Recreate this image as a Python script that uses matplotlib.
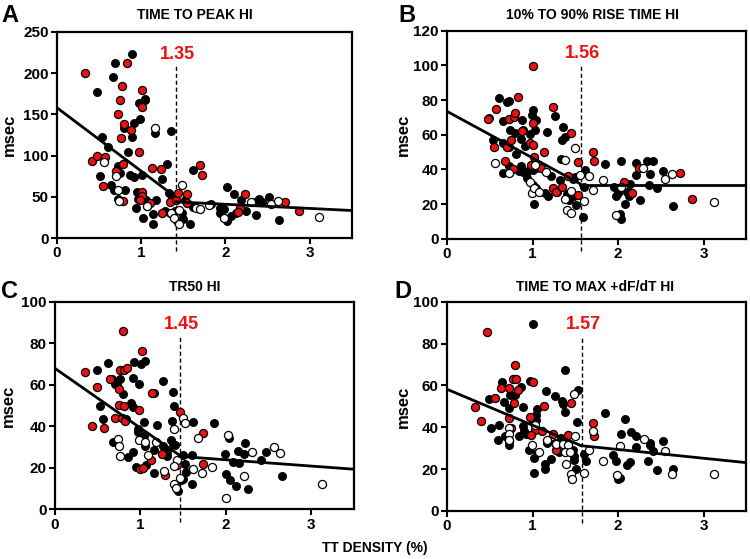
import matplotlib

matplotlib.use("Agg")

import matplotlib.pyplot as plt

plt.rcParams["font.family"] = ["Liberation Sans", "DejaVu Sans"]
plt.rcParams["font.weight"] = "bold"

# ---- panel A: time to peak ----
a_black_x = [0.89, 0.69, 0.67, 0.48, 0.97, 1.04, 0.98, 0.91, 0.79, 0.89, 0.53, 1.35,
             1.16, 0.84, 0.60, 0.73, 0.75, 0.87, 0.91, 1.01, 1.31, 1.25, 0.51, 0.64,
             0.68, 0.81, 0.72, 0.95, 0.96, 0.94, 1.06, 1.07, 1.14, 1.14, 1.02, 1.18,
             1.28, 1.33, 1.34, 1.37, 1.40, 1.42, 1.49, 1.50, 1.58, 1.61, 1.61, 1.52,
             2.02, 2.10, 1.94, 1.98, 2.02, 2.07, 2.13, 2.24, 2.19, 2.36, 2.38, 2.40,
             2.43, 2.52, 2.64, 1.83, 1.93, 1.05]
a_black_y = [223, 212, 195, 177, 164, 169, 144, 140, 133, 123, 123, 130,
             128, 105, 111, 88, 79, 76, 74, 77, 90, 72, 75, 65,
             58, 58, 47, 56, 48, 37, 46, 39, 29, 17, 24, 46,
             33, 55, 30, 48, 33, 21, 30, 23, 17, 38, 83, 46,
             62, 53, 31, 35, 21, 27, 30, 33, 46, 28, 45, 47,
             44, 50, 22, 41, 36, 168]
a_red_x = [0.335, 0.83, 0.77, 1.01, 0.75, 1.01, 0.73, 0.80, 0.88, 0.76, 0.97, 0.41,
           0.47, 0.57, 0.78, 1.13, 1.24, 1.70, 1.72, 0.70, 0.55, 1.01, 1.01, 0.78,
           0.98, 1.10, 1.25, 1.34, 1.41, 1.44, 1.54, 1.54, 2.23, 2.17, 2.15, 2.71,
           2.87]
a_red_y = [200, 212, 184, 180, 168, 159, 150, 138, 131, 121, 104, 93,
           99, 98, 90, 85, 84, 89, 76, 81, 63, 56, 51, 45,
           46, 43, 30, 44, 46, 55, 53, 42, 53, 37, 32, 44,
           33]
a_open_x = [1.16, 0.70, 0.56, 0.72, 0.74, 1.07, 1.49, 1.35, 1.39, 1.45, 1.45, 1.65,
            1.70, 1.81, 1.98, 2.30, 2.54, 2.63, 3.11]
a_open_y = [133, 75, 92, 58, 45, 39, 65, 30, 24, 17, 34, 37,
            35, 40, 24, 44, 41, 45, 26]

# ---- panel B: 10% to 90% rise time ----
b_black_x = [0.49, 0.61, 0.70, 0.73, 0.66, 0.74, 0.80, 0.88, 0.89, 0.97, 0.99, 1.00,
             1.04, 1.03, 1.17, 1.26, 1.36, 1.38, 1.35, 0.54, 0.65, 0.73, 0.81, 0.86,
             0.91, 0.87, 0.84, 0.89, 0.93, 0.97, 1.01, 1.04, 0.66, 0.72, 0.93, 1.01,
             1.04, 1.02, 1.15, 1.18, 1.22, 1.32, 1.33, 1.47, 1.50, 1.29, 1.40, 1.43,
             1.49, 1.51, 1.59, 1.60, 1.61, 1.85, 1.95, 1.98, 2.00, 2.03, 2.02, 2.04,
             2.08, 2.11, 2.14, 2.13, 2.21, 2.21, 2.26, 2.34, 2.41, 2.38, 2.36, 2.46,
             2.53, 2.64]
b_black_y = [69.4, 81, 79, 79.5, 68, 63, 61, 68.6, 63, 60.7, 71.5, 74.5,
             68.6, 63, 61.7, 71, 64.4, 58.7, 57, 56.8, 55.5, 53, 49, 57.8,
             53.5, 42, 39, 38.6, 38.6, 40, 39.7, 41, 37.8, 42, 35, 31,
             29, 19.8, 26.4, 24.8, 36, 34, 46, 34.5, 35.7, 26.8, 26, 22.5,
             24.4, 19.6, 12.4, 30, 39.6, 43, 30, 24.4, 26.4, 44.8, 14.5, 11.2,
             20, 27, 31.8, 24.8, 36.5, 43.4, 22.5, 44.8, 44.8, 37.2, 31, 29,
             38.8, 19]
b_red_x = [1.01, 0.48, 0.57, 0.83, 0.73, 0.78, 0.80, 0.75, 0.55, 0.70, 0.88, 1.00,
           1.24, 1.45, 0.97, 1.01, 1.02, 1.13, 0.68, 0.77, 0.98, 1.10, 1.53, 1.71,
           1.72, 1.42, 1.24, 1.27, 1.35, 1.53, 2.07, 2.16, 2.24, 2.72, 2.87]
b_red_y = [99.5, 69, 75, 82, 69, 70, 72.5, 57, 53, 53, 62, 67,
           76, 61, 55, 54, 47, 50, 45, 40.5, 42.6, 41, 44, 50,
           45, 36, 29, 27, 30, 25, 32.6, 26.6, 41, 38, 23]
b_open_x = [0.56, 0.73, 0.99, 0.97, 1.02, 1.08, 1.16, 1.38, 1.50, 1.38, 1.40, 1.45,
            1.45, 1.55, 1.60, 1.66, 1.71, 1.83, 1.98, 2.03, 2.29, 2.55, 2.63, 3.12,
            1.03]
b_open_y = [43.4, 38, 26.2, 32.6, 29.3, 26.8, 38.6, 45.2, 52.5, 22.9, 16.7, 14.7,
            27.3, 36.6, 21.7, 36, 28, 33.7, 13.8, 29.9, 40.7, 34.7, 37.6, 21.3,
            42.7]

# ---- panel C: TR50 ----
c_black_x = [0.49, 0.62, 0.93, 1.01, 1.05, 0.67, 0.76, 0.91, 1.27, 0.70, 0.73, 0.99,
             0.80, 1.16, 1.38, 0.53, 0.89, 0.91, 1.39, 0.56, 0.83, 1.04, 1.20, 0.97,
             0.97, 1.04, 1.37, 1.62, 1.86, 0.68, 0.91, 0.86, 1.06, 1.16, 1.27, 1.36,
             1.38, 1.41, 1.31, 1.31, 1.16, 0.95, 1.07, 1.50, 1.61, 1.52, 1.50, 1.53,
             1.48, 1.44, 1.60, 1.99, 2.00, 2.04, 2.05, 2.09, 2.12, 2.14, 2.16, 2.21,
             2.22, 2.26, 2.41, 2.47, 2.66]
c_black_y = [67.2, 70.3, 71, 69.8, 71.7, 62.7, 63, 63.3, 61.7, 60.2, 59.8, 60.2,
             55.7, 55.9, 56.5, 50, 51.2, 49.3, 50, 43.3, 43.3, 42, 40.5, 38.8,
             37.2, 35.2, 42.5, 42, 41.5, 32.6, 27.5, 25, 30.4, 28.6, 30.4, 33.4,
             31.7, 31, 27.8, 25.5, 17.4, 20.4, 21.3, 26.2, 26.2, 21.8, 14.7, 17.8,
             14.2, 8.9, 12.3, 26.5, 17, 34.4, 14.2, 22.6, 11.3, 27.9, 22.3, 26.8,
             31.8, 9.7, 23.9, 27.8, 16.2]
c_red_x = [0.80, 1.02, 0.35, 0.76, 0.81, 0.85, 0.65, 0.49, 0.75, 1.14, 0.75, 0.81,
           0.99, 1.46, 0.43, 0.58, 0.71, 0.79, 0.82, 1.73, 1.25, 1.12, 1.29, 1.00,
           1.03, 1.43, 1.73]
c_red_y = [86.1, 76.2, 66.4, 67, 67.2, 67.9, 62.7, 59.1, 58.2, 55.9, 50.4, 49.9,
           47.7, 47, 40, 39.1, 43.9, 43.8, 42.6, 36.8, 26.8, 23.7, 16.5, 19.4,
           20, 21.3, 21.8]
c_open_x = [0.74, 0.75, 0.76, 0.99, 1.05, 1.09, 1.18, 1.39, 1.43, 1.39, 1.39, 1.42,
            1.46, 1.50, 1.52, 1.62, 1.72, 1.67, 1.84, 2.03, 2.00, 2.21, 2.31, 2.56,
            2.64, 3.13, 1.28]
c_open_y = [33.9, 30.4, 25.8, 33.4, 32.3, 26.2, 32.3, 38.9, 23.7, 20.7, 12.4, 10.3,
            15, 43.8, 41.7, 19.4, 17.4, 34.2, 20.4, 35.7, 5.3, 15.8, 27.8, 30.2,
            27, 12, 18.6]

# ---- panel D: time to max +dF/dT ----
d_black_x = [1.01, 1.38, 0.64, 0.97, 0.49, 0.67, 0.74, 0.80, 0.86, 1.16, 1.26, 1.34,
             1.36, 1.53, 0.89, 0.73, 1.05, 1.04, 1.38, 0.51, 0.61, 0.68, 0.60, 0.72,
             0.84, 0.89, 0.90, 0.92, 1.00, 1.04, 0.96, 1.02, 1.02, 1.05, 1.15, 1.15,
             1.17, 1.22, 1.26, 1.31, 1.33, 1.40, 1.42, 1.47, 1.48, 1.49, 1.51, 1.52,
             1.60, 1.62, 1.85, 1.94, 1.98, 2.00, 2.02, 2.03, 2.08, 2.10, 2.14, 2.15,
             2.21, 2.21, 2.35, 2.37, 2.38, 2.41, 2.46, 2.53, 2.64]
d_black_y = [89.6, 67.6, 61.5, 62, 53.7, 52, 55.3, 55.6, 59.3, 57.2, 54.8, 52.4,
             51.3, 58, 49.7, 49.2, 48.9, 46, 47.1, 39.6, 41.3, 35.7, 33.8, 31.7,
             35.6, 40.4, 38.1, 36.7, 42.6, 43.6, 29.2, 25.2, 18.1, 27.7, 22.4, 19.9,
             32.4, 24.8, 32.7, 28, 35.1, 32.7, 30.3, 29.2, 26.3, 24.4, 20, 42.3,
             27.2, 23.9, 47, 26.9, 23.9, 15.5, 15.9, 36.7, 43.8, 21.8, 23.6, 37.8,
             35.6, 30.4, 23.7, 32.7, 31.7, 28.5, 19.6, 33.5, 20.2]
d_red_x = [0.47, 0.79, 0.77, 0.81, 1.01, 0.63, 0.73, 0.83, 0.56, 0.33, 0.78, 1.13,
           1.45, 0.97, 0.40, 0.72, 0.75, 0.73, 1.03, 1.11, 0.98, 1.24, 1.42, 1.27,
           1.71, 1.72]
d_red_y = [85.6, 69.9, 63.1, 63, 61.5, 58.7, 58.8, 58, 53.8, 49.8, 51.4, 50.2,
           51.6, 44.7, 42.8, 44.6, 39.7, 33.3, 38.5, 38, 36.2, 37, 36.4, 29.3,
           42, 35.6]
d_open_x = [0.73, 0.72, 0.72, 0.99, 1.08, 1.03, 1.17, 1.27, 1.36, 1.42, 1.38, 1.44,
            1.39, 1.45, 1.46, 1.50, 1.49, 1.60, 1.66, 1.71, 1.83, 1.99, 2.02, 2.30,
            2.55, 2.63, 3.12]
d_open_y = [39.6, 36.9, 34, 31.7, 28.2, 41.3, 34, 32.2, 31.9, 31.3, 28.4, 28.4,
            22.3, 17.9, 15.2, 35.9, 55.9, 18.1, 29.3, 38, 23.9, 17.1, 31.1, 34.5,
            28.5, 17.9, 17.8]

# piecewise fits: (x, y) knots of left and right segments
a_fit_left = ([0, 1.38], [158, 52])
a_fit_right = ([1.41, 3.5], [44, 33.5])
b_fit_left = ([0, 1.56], [73.5, 31.6])
b_fit_right = ([1.56, 3.5], [31.2, 31.2])
c_fit_left = ([0, 1.46], [68, 26])
c_fit_right = ([1.46, 3.5], [25.5, 19.3])
d_fit_left = ([0, 1.57], [58.2, 31.2])
d_fit_right = ([1.57, 3.5], [31.2, 23.1])

letters = ["A", "B", "C", "D"]
titles = ["TIME TO PEAK HI", "10% TO 90% RISE TIME HI", "TR50 HI", "TIME TO MAX +dF/dT HI"]
breaks = ["1.35", "1.56", "1.45", "1.57"]
break_x = [1.41, 1.567, 1.465, 1.58]
y_max = [250, 120, 100, 100]
y_step = [50, 20, 20, 20]

RED = "#ee1111"


def draw_panel(ax, i, black, red, opened, fit_l, fit_r):
    ymax = y_max[i]
    ax.scatter(*black, s=34, facecolor="black", edgecolor="black", linewidth=0.6, zorder=3)
    ax.scatter(*red, s=34, facecolor=RED, edgecolor="black", linewidth=0.9, zorder=3)
    ax.scatter(*opened, s=34, facecolor="white", edgecolor="black", linewidth=0.9, zorder=3)
    ax.plot(*fit_l, color="black", linewidth=2.0, zorder=4)
    ax.plot(*fit_r, color="black", linewidth=2.0, zorder=4)

    bx = break_x[i]
    ax.plot([bx, bx], [-0.06 * ymax, 0.835 * ymax], color="black", linewidth=1.0,
            dashes=(3, 2), clip_on=False, zorder=2)
    ax.text(bx + 0.02, 0.89 * ymax, breaks[i], color=RED, fontsize=13,
            fontweight="bold", ha="center", va="center")

    ax.set_xlim(0, 3.5)
    ax.set_ylim(0, ymax)
    ax.set_xticks([0, 1, 2, 3])
    ax.set_yticks(range(0, ymax + 1, y_step[i]))
    ax.tick_params(direction="out", length=4, width=1.5, labelsize=11, pad=2)
    for lab in ax.get_xticklabels() + ax.get_yticklabels():
        lab.set_fontweight("bold")
    for spine in ax.spines.values():
        spine.set_linewidth(1.6)


def main():
    fig = plt.figure(figsize=(7.5, 5.59), dpi=100)
    boxes = [
        [0.076, 0.574, 0.393, 0.369],
        [0.596, 0.573, 0.399, 0.372],
        [0.073, 0.089, 0.399, 0.371],
        [0.596, 0.086, 0.399, 0.374],
    ]
    data = [
        ((a_black_x, a_black_y), (a_red_x, a_red_y), (a_open_x, a_open_y), a_fit_left, a_fit_right),
        ((b_black_x, b_black_y), (b_red_x, b_red_y), (b_open_x, b_open_y), b_fit_left, b_fit_right),
        ((c_black_x, c_black_y), (c_red_x, c_red_y), (c_open_x, c_open_y), c_fit_left, c_fit_right),
        ((d_black_x, d_black_y), (d_red_x, d_red_y), (d_open_x, d_open_y), d_fit_left, d_fit_right),
    ]
    title_pos = [(195, 15), (592, 15), (195, 287), (595, 287)]
    letter_pos = [(10, 15), (407, 15), (10, 291), (403, 291)]
    ylab_x = [9, 403, 8, 403]

    for i, box in enumerate(boxes):
        ax = fig.add_axes(box)
        draw_panel(ax, i, *data[i])
        tx, ty = title_pos[i]
        fig.text(tx / 750, 1 - ty / 559, titles[i], fontsize=10, fontweight="bold",
                 ha="center", va="center")
        lx, ly = letter_pos[i]
        fig.text(lx / 750, 1 - ly / 559, letters[i], fontsize=17, fontweight="bold",
                 ha="center", va="center")
        cy = box[1] + box[3] / 2
        fig.text(ylab_x[i] / 750, cy, "msec", fontsize=12, fontweight="bold",
                 rotation=90, ha="center", va="center")

    fig.text(0.5, 1 - 548 / 559, "TT DENSITY (%)", fontsize=10, fontweight="bold",
             ha="center", va="center")
    fig.savefig("out.png", dpi=100)
    plt.close(fig)


if __name__ == "__main__":
    main()
